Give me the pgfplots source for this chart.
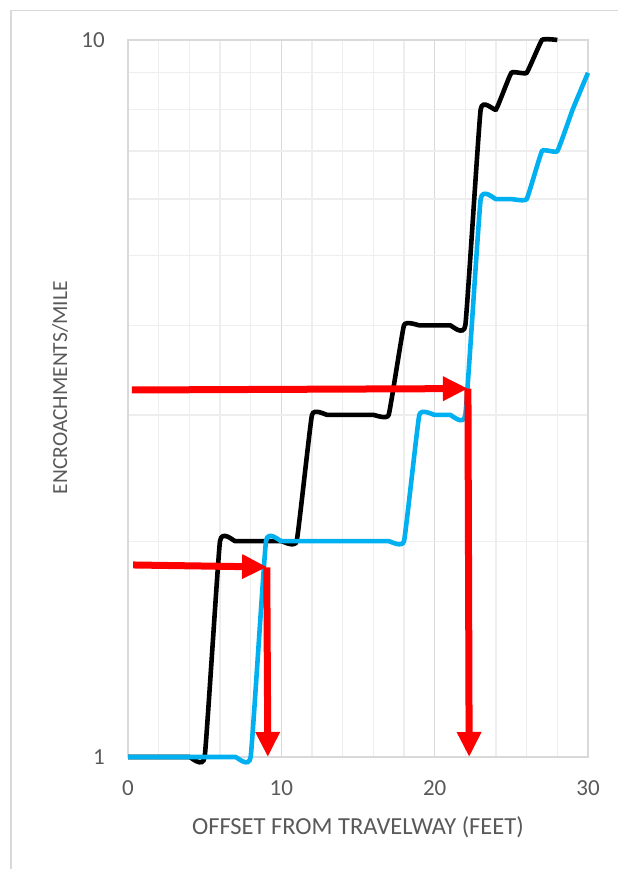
\documentclass[border=0pt]{standalone}
\usepackage{pgfplots}
\pgfplotsset{compat=1.18}
\usepackage{fontspec}
\setmainfont{Carlito}
\usetikzlibrary{arrows.meta}
\definecolor{tickgray}{HTML}{595959}
\definecolor{majgrid}{HTML}{D9D9D9}
\definecolor{mingrid}{HTML}{EEEEEE}
\definecolor{xlblue}{HTML}{00B0F0}
\definecolor{xlred}{HTML}{FF0000}
\begin{document}
\begin{tikzpicture}[x=1pt,y=1pt]
\path[use as bounding box] (0,0) rectangle (618,869);
\draw[color=majgrid, line width=1.2pt] (11,0) -- (11,858.5) -- (618,858.5);
\begin{axis}[
  at={(128pt,112pt)}, anchor=south west,
  scale only axis, width=460pt, height=717pt,
  xmin=0, xmax=30, ymin=1, ymax=10, ymode=log,
  clip=false,
  xtick={0,10,20,30},
  minor xtick={2,4,6,8,12,14,16,18,22,24,26,28},
  ytick={1,10}, yticklabels={1,10},
  minor ytick={2,3,4,5,6,7,8,9},
  grid=both,
  major grid style={draw=majgrid, line width=1.2pt},
  minor grid style={draw=mingrid, line width=1.2pt},
  axis line style={draw=majgrid, line width=1.2pt},
  major tick length=0pt, minor tick length=0pt,
  tick style={draw=none},
  /pgf/number format/assume math mode=true,
  ticklabel style={font=\fontsize{23}{27}\selectfont, text=tickgray, inner sep=0pt},
  xticklabel style={anchor=center, yshift=-31pt},
  yticklabel style={anchor=east, xshift=-23pt},
  xlabel={OFFSET FROM TRAVELWAY (FEET)},
  ylabel={ENCROACHMENTS/MILE},
  xlabel style={font=\fontsize{24.5}{28}\selectfont, text=tickgray, inner sep=0pt, at={(axis description cs:0.5,0)}, anchor=base, yshift=-77.5pt},
  ylabel style={font=\fontsize{21.5}{26}\selectfont, text=tickgray, inner sep=0pt, at={(axis description cs:-0.1326,0.515)}, anchor=base, rotate=0},
]
\addplot[black, line width=4.6pt, smooth, tension=0.2] coordinates {
(0,1) (1,1) (2,1) (3,1) (4,1) (5,1)
(6,2) (7,2) (8,2) (9,2) (10,2) (11,2)
(12,3) (13,3) (14,3) (15,3) (16,3) (17,3)
(18,4) (19,4) (20,4) (21,4) (22,4)
(23,8) (24,8) (25,9) (26,9) (27,10) (28,10)
};
\addplot[xlblue, line width=4.6pt, smooth, tension=0.2] coordinates {
(0,1) (1,1) (2,1) (3,1) (4,1) (5,1) (6,1) (7,1) (8,1)
(9,2) (10,2) (11,2) (12,2) (13,2) (14,2) (15,2) (16,2) (17,2) (18,2)
(19,3) (20,3) (21,3) (22,3)
(23,6) (24,6) (25,6) (26,6)
(27,7) (28,7) (29,8) (30,9)
};
\addplot[xlred, line width=7pt, -{Triangle[width=23pt,length=25pt]}] coordinates {(0.33,1.853) (9.07,1.841)};
\addplot[xlred, line width=7pt, -{Triangle[width=23pt,length=25pt]}] coordinates {(9.05,1.838) (9.12,1.0)};
\addplot[xlred, line width=7pt, -{Triangle[width=23pt,length=25pt]}] coordinates {(0.25,3.25) (22.17,3.265)};
\addplot[xlred, line width=7pt, -{Triangle[width=23pt,length=25pt]}] coordinates {(22.17,3.265) (22.25,1.0)};
\end{axis}
\end{tikzpicture}
\end{document}
